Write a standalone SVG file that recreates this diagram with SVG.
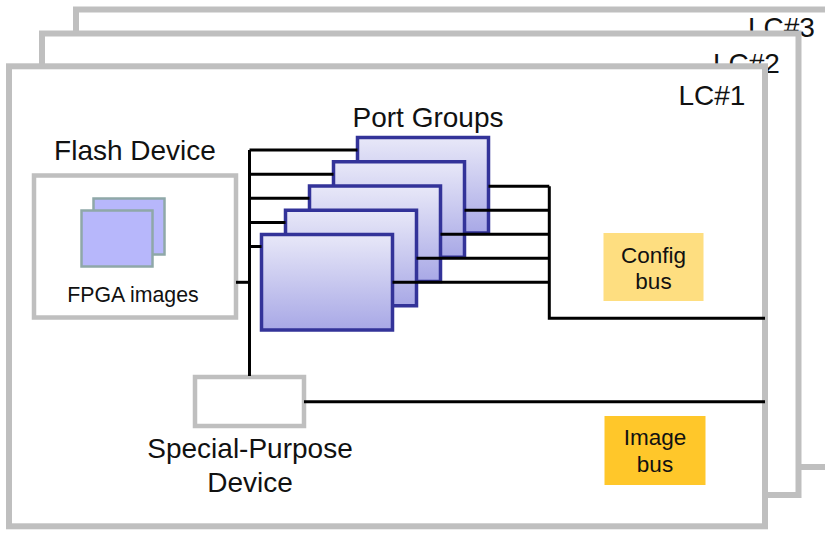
<svg xmlns="http://www.w3.org/2000/svg" width="825" height="533" viewBox="0 0 825 533">
  <defs>
    <linearGradient id="pg" x1="0" y1="0" x2="0" y2="1">
      <stop offset="0" stop-color="#e8e8f8"/>
      <stop offset="1" stop-color="#a8a8e6"/>
    </linearGradient>
    <style>
      .card { fill: #ffffff; stroke: #bfbfbf; stroke-width: 6; }
      .gbox { fill: #ffffff; stroke: #bfbfbf; stroke-width: 4.5; }
      .pg { fill: url(#pg); stroke: #333399; stroke-width: 3.5; }
      .img { fill: #b7b7fb; stroke: #8fa8a8; stroke-width: 2.5; }
      .t { font-family: "Liberation Sans", Arial, sans-serif; fill: #111111; }
      .big { font-size: 28px; }
      .mid { font-size: 22.5px; }
      .wire { fill: none; stroke: #000000; stroke-width: 3; }
    </style>
  </defs>
  <rect width="825" height="533" fill="#ffffff"/>

  <g id="lc3">
    <rect class="card" x="76" y="9.5" width="800" height="457.5"/>
    <text class="t big" x="748" y="36.5">LC#3</text>
  </g>
  <g id="lc2">
    <rect class="card" x="42" y="33.5" width="756.5" height="461.5"/>
    <text class="t big" x="713" y="73">LC#2</text>
  </g>
  <g id="lc1">
    <rect class="card" x="9" y="66.3" width="756" height="460"/>
    <text class="t big" x="678.5" y="105">LC#1</text>
  </g>

  <g id="flash-device">
    <text class="t big" x="135" y="159.5" text-anchor="middle">Flash Device</text>
    <rect class="gbox" x="34" y="175.5" width="202" height="142"/>
    <rect class="img" x="93.5" y="198.5" width="71" height="56"/>
    <rect class="img" x="81.5" y="210.5" width="71" height="56"/>
    <text class="t" x="133" y="301.7" font-size="21.3" text-anchor="middle">FPGA images</text>
  </g>

  <g id="port-groups">
    <text class="t big" x="428" y="127.3" text-anchor="middle">Port Groups</text>
    <rect class="pg" x="357.5" y="137.5" width="131" height="95.5"/>
    <rect class="pg" x="333.5" y="161.75" width="131" height="95.5"/>
    <rect class="pg" x="309.5" y="186" width="131" height="95.5"/>
    <rect class="pg" x="285.5" y="210.25" width="131" height="95.5"/>
    <rect class="pg" x="261.5" y="234.5" width="131" height="95.5"/>
  </g>

  <g id="special-purpose-device">
    <rect class="gbox" x="195" y="377" width="109" height="49"/>
    <text class="t big" x="250" y="458.3" text-anchor="middle">Special-Purpose</text>
    <text class="t big" x="250" y="491.7" text-anchor="middle">Device</text>
  </g>

  <g id="config-bus">
    <rect x="603.5" y="233" width="100" height="68" fill="#fede80"/>
    <text class="t mid" x="653.5" y="262.7" text-anchor="middle">Config</text>
    <text class="t mid" x="653.5" y="289.3" text-anchor="middle">bus</text>
  </g>
  <g id="image-bus">
    <rect x="604.5" y="416" width="101" height="69" fill="#ffc72a"/>
    <text class="t mid" x="655" y="445" text-anchor="middle">Image</text>
    <text class="t mid" x="655" y="471.7" text-anchor="middle">bus</text>
  </g>

  <g id="connectors">
    <path class="wire" d="M249.5 150 V376"/>
    <path class="wire" d="M249.5 150 H357.5 M249.5 174.2 H333.5 M249.5 198.3 H309.5 M249.5 222.4 H285.5 M249.5 246.5 H261.5"/>
    <path class="wire" d="M236 282.3 H249.5"/>
    <path class="wire" d="M488.5 186.3 H549.3 M464.5 210.3 H549.3 M440.5 234.3 H549.3 M416.5 258.3 H549.3 M392.5 282.3 H549.3"/>
    <path class="wire" d="M549.3 186.3 V318.3 H765"/>
    <path class="wire" d="M304 401.7 H765"/>
  </g>
</svg>
